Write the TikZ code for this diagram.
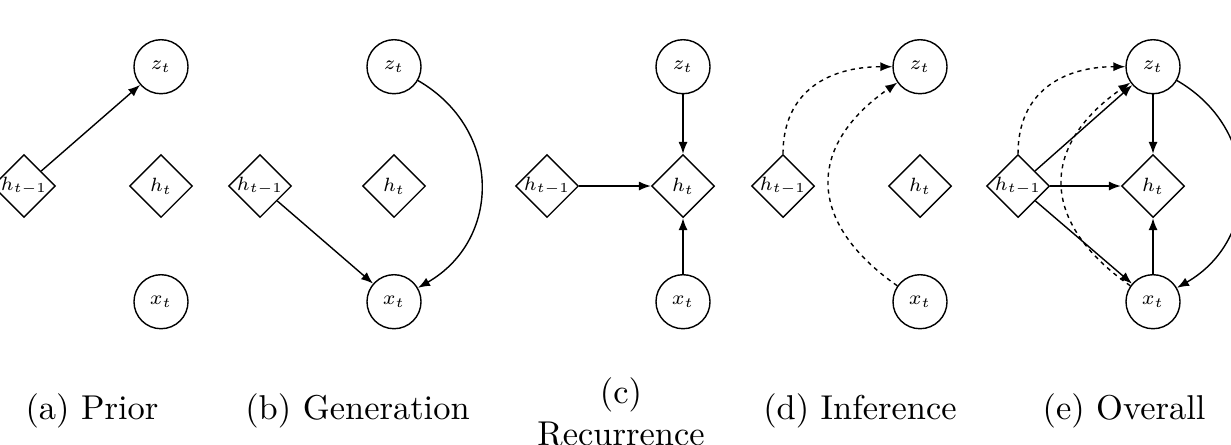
\documentclass[tikz,border=0pt]{standalone}
\usepackage{graphicx}
\usetikzlibrary{shapes.geometric,arrows.meta}
\newcommand{\nlab}[1]{\scalebox{0.8}{$#1$}}
\newcommand{\dlab}[1]{\makebox[0pt]{\scalebox{0.78}{$#1$}}}
\begin{document}
\begin{tikzpicture}[x=0.01cm,y=0.01cm,
  var/.style={circle,draw,minimum size=0.54cm,inner sep=0pt,font=\scriptsize},
  det/.style={diamond,draw,minimum size=0.63cm,inner sep=0pt,font=\scriptsize},
  arr/.style={-{Latex[length=3.4pt,width=2.6pt]},line width=0.4pt},
  dsh/.style={arr,dash pattern=on 1.2pt off 1.2pt},
  captxt/.style={anchor=base,inner sep=0pt,font=\fontsize{9.8pt}{12pt}\selectfont}]
\useasboundingbox (0,0) rectangle (1231,444);
% (a)
\node[var] (za) at (161,377.3) {\nlab{z_t}};
\node[det] (ha) at (161,258) {\dlab{h_t}};
\node[var] (xa) at (161,142.3) {\nlab{x_t}};
\node[det] (hpa) at (24,258) {\dlab{h_{t-1}}};
\draw[arr] (hpa) -- (za);
% (b)
\node[var] (zb) at (394,377.3) {\nlab{z_t}};
\node[det] (hb) at (394,258) {\dlab{h_t}};
\node[var] (xb) at (394,142.3) {\nlab{x_t}};
\node[det] (hpb) at (260,258) {\dlab{h_{t-1}}};
\draw[arr] (hpb) -- (xb);
\draw[arr] (zb) to[out=-30,in=30,looseness=1.2] (xb);
% (c)
\node[var] (zc) at (683,377.3) {\nlab{z_t}};
\node[det] (hc) at (683,258) {\dlab{h_t}};
\node[var] (xc) at (683,142.3) {\nlab{x_t}};
\node[det] (hpc) at (547,258) {\dlab{h_{t-1}}};
\draw[arr] (zc) -- (hc);
\draw[arr] (xc) -- (hc);
\draw[arr] (hpc) -- (hc);
% (d)
\node[var] (zd) at (920,377.3) {\nlab{z_t}};
\node[det] (hd) at (920,258) {\dlab{h_t}};
\node[var] (xd) at (920,142.3) {\nlab{x_t}};
\node[det] (hpd) at (783,258) {\dlab{h_{t-1}}};
\draw[dsh] (hpd) to[out=90,in=180,looseness=1.15] (zd);
\draw[dsh] (xd) to[out=145,in=215,looseness=1.4] (zd);
% (e)
\node[var] (ze) at (1153,377.3) {\nlab{z_t}};
\node[det] (he) at (1153,258) {\dlab{h_t}};
\node[var] (xe) at (1153,142.3) {\nlab{x_t}};
\node[det] (hpe) at (1018,258) {\dlab{h_{t-1}}};
\draw[arr] (hpe) -- (ze);
\draw[arr] (hpe) -- (he);
\draw[arr] (hpe) -- (xe);
\draw[arr] (ze) -- (he);
\draw[arr] (xe) -- (he);
\draw[arr] (ze) to[out=-30,in=30,looseness=1.2] (xe);
\draw[dsh] (hpe) to[out=90,in=180,looseness=1.15] (ze);
\draw[dsh] (xe) to[out=145,in=215,looseness=1.4] (ze);
% captions
\node[captxt] (capa) at (92,25) {(a) Prior};
\node[captxt] (capb) at (357.5,25) {(b) Generation};
\node[captxt,anchor=north,align=center] (capc) at (621,67) {(c)\\Recurrence};
\node[captxt] (capd) at (860,25) {(d) Inference};
\node[captxt] (cape) at (1124,25) {(e) Overall};
\end{tikzpicture}
\end{document}
